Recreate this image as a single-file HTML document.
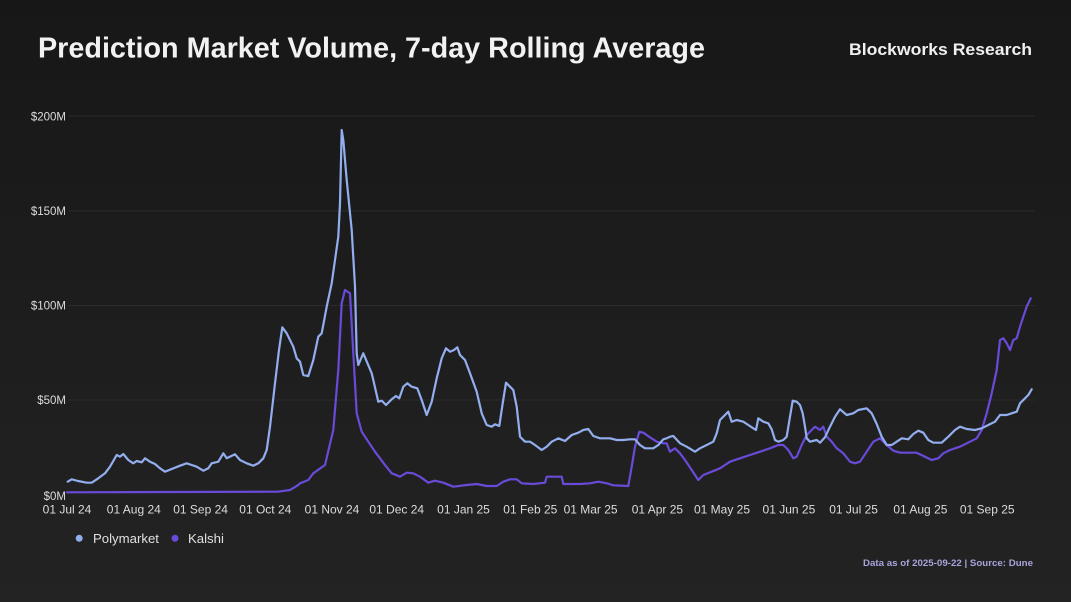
<!DOCTYPE html>
<html>
<head>
<meta charset="utf-8">
<style>
html,body{margin:0;padding:0;background:#1c1c1c;}
body{width:1071px;height:602px;overflow:hidden;}
svg{display:block;}
text{font-family:"Liberation Sans",Arial,sans-serif;}
</style>
</head>
<body>
<svg width="1071" height="602" viewBox="0 0 1071 602" xmlns="http://www.w3.org/2000/svg">
<defs>
<linearGradient id="bg" x1="0" y1="0" x2="0" y2="1">
<stop offset="0" stop-color="#171717"/>
<stop offset="1" stop-color="#232323"/>
</linearGradient>
</defs>
<rect x="0" y="0" width="1071" height="602" fill="url(#bg)"/>

<text x="38" y="57.5" font-size="28.5" font-weight="bold" fill="#f2f2f2" textLength="667" lengthAdjust="spacingAndGlyphs">Prediction Market Volume, 7-day Rolling Average</text>
<text x="849" y="55" font-size="17" font-weight="bold" fill="#f0f0f0" textLength="183" lengthAdjust="spacingAndGlyphs">Blockworks Research</text>

<g stroke="#2b2b2b" stroke-width="1">
<line x1="68" y1="116" x2="1035" y2="116"/>
<line x1="68" y1="211" x2="1035" y2="211"/>
<line x1="68" y1="305.5" x2="1035" y2="305.5"/>
<line x1="68" y1="400" x2="1035" y2="400"/>
</g>

<g font-size="11.5" fill="#dcdcdc" text-anchor="end">
<text x="66" y="120.5">$200M</text>
<text x="66" y="215">$150M</text>
<text x="66" y="309.5">$100M</text>
<text x="66" y="404">$50M</text>
<text x="66" y="500">$0M</text>
</g>

<g font-size="12" fill="#dcdcdc" text-anchor="middle">
<text x="67" y="513.5">01 Jul 24</text>
<text x="133.8" y="513.5">01 Aug 24</text>
<text x="200.6" y="513.5">01 Sep 24</text>
<text x="265.3" y="513.5">01 Oct 24</text>
<text x="332" y="513.5">01 Nov 24</text>
<text x="396.7" y="513.5">01 Dec 24</text>
<text x="463.5" y="513.5">01 Jan 25</text>
<text x="530.3" y="513.5">01 Feb 25</text>
<text x="590.6" y="513.5">01 Mar 25</text>
<text x="657.4" y="513.5">01 Apr 25</text>
<text x="722" y="513.5">01 May 25</text>
<text x="788.9" y="513.5">01 Jun 25</text>
<text x="853.6" y="513.5">01 Jul 25</text>
<text x="920.4" y="513.5">01 Aug 25</text>
<text x="987.2" y="513.5">01 Sep 25</text>
</g>

<polyline fill="none" stroke="#6a4ad8" stroke-width="2.2" stroke-linejoin="round" stroke-linecap="round" points="67,492.3 278,491.7 290,490 298.3,485 300,483.3 308.3,480 313.3,473.3 325,465 333.3,430 338.3,370 341.7,303.3 345,290 350,293.3 353.3,353.3 356.7,413.3 361.7,431.7 368.3,441.7 375,451.7 380,458.3 385,465 391.7,473.3 400,476.7 406.7,472.7 413.3,473.3 420,476.7 428.3,482.7 435,480.7 443.3,482.7 453.3,486.7 466.7,485 476.7,484 486.7,486 496.7,486 503.3,481.7 510,479.3 516.7,479.3 521.7,483.3 533.3,484 545,482.7 546.7,476.7 561.7,476.7 563.3,484 580,484 590,483.3 598.3,481.7 606.7,483.3 613.3,485.3 628.3,486 631.7,466.7 635,446.7 639.3,431.7 643.3,432.7 650,437.3 656.7,441.7 663.3,443.3 666.7,443.3 670,451.7 675,448.3 680,453.3 685,460 691.7,470 698.3,480 703.3,475 711.7,471.7 720,468.3 730,461.7 740,458.3 750,455 760,451.7 770,448.3 778.3,445 783.3,445 788.3,450 793.3,458.3 796.7,456.7 801.7,445 806.7,435 811.7,430 815,426.7 820,430 823.3,426.7 826.7,436.7 831.7,441.7 836.7,448.3 843.3,453.3 850,461.7 855,463.3 860,461.7 866.7,451.7 873.3,441.7 880,438.3 886.7,445 893.3,450.7 900,452.7 908.3,452.7 916.7,452.7 925,456.7 931.7,460 938.3,458.3 943.3,453.3 950,450 960,446.7 970,441.7 976.7,438.3 981.7,430 986.7,413.3 991.7,393.3 996.7,370 1000,340 1003.3,338.3 1006.7,343.3 1010,350 1013.3,340 1016.7,338.3 1020,326.7 1023.3,316.7 1026.7,306.7 1030.7,298.3"/>

<polyline fill="none" stroke="#93aeee" stroke-width="2.2" stroke-linejoin="round" stroke-linecap="round" points="67.7,481.7 71.7,479.3 78,481 86.7,482.7 91.7,482.7 98.3,478.3 105,473.3 110,466.7 116.7,455 120,456.7 123.3,454 128.3,460 133.3,463.3 136.7,461 141.7,462.3 145,458.3 150,461.7 155,464 160,468.3 165,471.7 171.7,469 180,465.7 186.7,463.3 191.7,465 196.7,466.7 203.3,470.7 208.3,468.3 211.7,463.3 218.3,461.7 223.3,453.3 226.7,458.3 235,454.3 240,460 246.7,463.3 253.3,465.7 258.3,463.3 263.3,458.3 266.7,450 270,426.7 275,383.3 279,350 282.3,327.3 286.7,333.3 293.3,346.7 296.7,358.3 300,361.7 303.3,375 308.3,376 313.3,360 318.3,336.7 321.7,333.3 326.7,306.7 331.7,283.3 335,260 338.3,236.7 340,203.3 341.7,130 343.3,140 346.7,180 351.7,230 355,286.7 356.7,353.3 358.3,365 363.3,353.3 371.7,373.3 373.3,380 378.3,401.7 381.7,400.7 386,405 391.7,399.3 396,396 399.3,398.3 403.3,386.7 407.3,383.3 411.7,386.7 417.3,388.3 421.7,400 426.7,415 431.7,401.7 436.7,378.3 441.7,358.3 446,348.3 450,351.7 454,350 457.3,347.3 460,355 465,360 470,373.3 476.7,391.7 481.7,413.3 486.7,425 491.7,426.7 495,424.3 499.3,426 502.7,403.3 506,382.7 510,386.7 513.3,390 516.7,406.7 520,436.7 525,441.7 530,441.7 535,445 541.7,450 546.7,446.7 551.7,441.7 558.3,438.3 565,441 571.7,435 578.3,432.7 583.3,430 588.3,429 593.3,436 600,438.3 610,438.3 616.7,440 623.3,440 630,439.3 635,439.3 640,445 645,448.3 653.3,448.3 658.3,445 663.3,439.3 666.7,438.3 670,436.7 673.3,436 680,443.3 686.7,446.7 695,451.7 700,448.3 706.7,445 713.3,441.7 716.7,433.3 720,420 725,415 728.3,411.7 731.7,421.7 736.7,420 743.3,421.7 748.3,425 753.3,428.3 756,430 758.3,418.3 763.3,421.7 768.3,423.3 771.7,429.3 775,440 778.3,441.7 783.3,440 786.7,436.7 790,416.7 792.7,400.7 796.7,401.7 800,405 802.7,413.3 805,426.7 806.7,438.3 810,441.7 816.7,440 820,442.7 825,437.3 830,426.7 835,416.7 840,409.3 846.7,415 853.3,413.3 858.3,410 866.7,408.3 871.7,413.3 876.7,424 881.7,436.7 886.7,445 891.7,445 896.7,441.7 901.7,438.3 908.3,439.3 913.3,434 918.3,430.7 923.3,432.7 928.3,440 933.3,442.7 941.7,442.7 948.3,436.7 955,430 960,426.7 966.7,429 975,430 981.7,428.3 988.3,425 995,421.7 1000,415 1006.7,415 1011.7,413.3 1016.7,411.7 1020,403.3 1025,398.3 1028.3,395 1031.7,389.3"/>

<circle cx="79.2" cy="538.3" r="3.5" fill="#93aeee"/>
<text x="93" y="543" font-size="13.2" fill="#e0e0e0">Polymarket</text>
<circle cx="175" cy="538.3" r="3.5" fill="#6a4ad8"/>
<text x="188" y="543" font-size="13.2" fill="#e0e0e0">Kalshi</text>

<text x="863" y="566" font-size="9.5" font-weight="bold" fill="#a8a4dc" textLength="170" lengthAdjust="spacingAndGlyphs">Data as of 2025-09-22 | Source: Dune</text>
</svg>
</body>
</html>
